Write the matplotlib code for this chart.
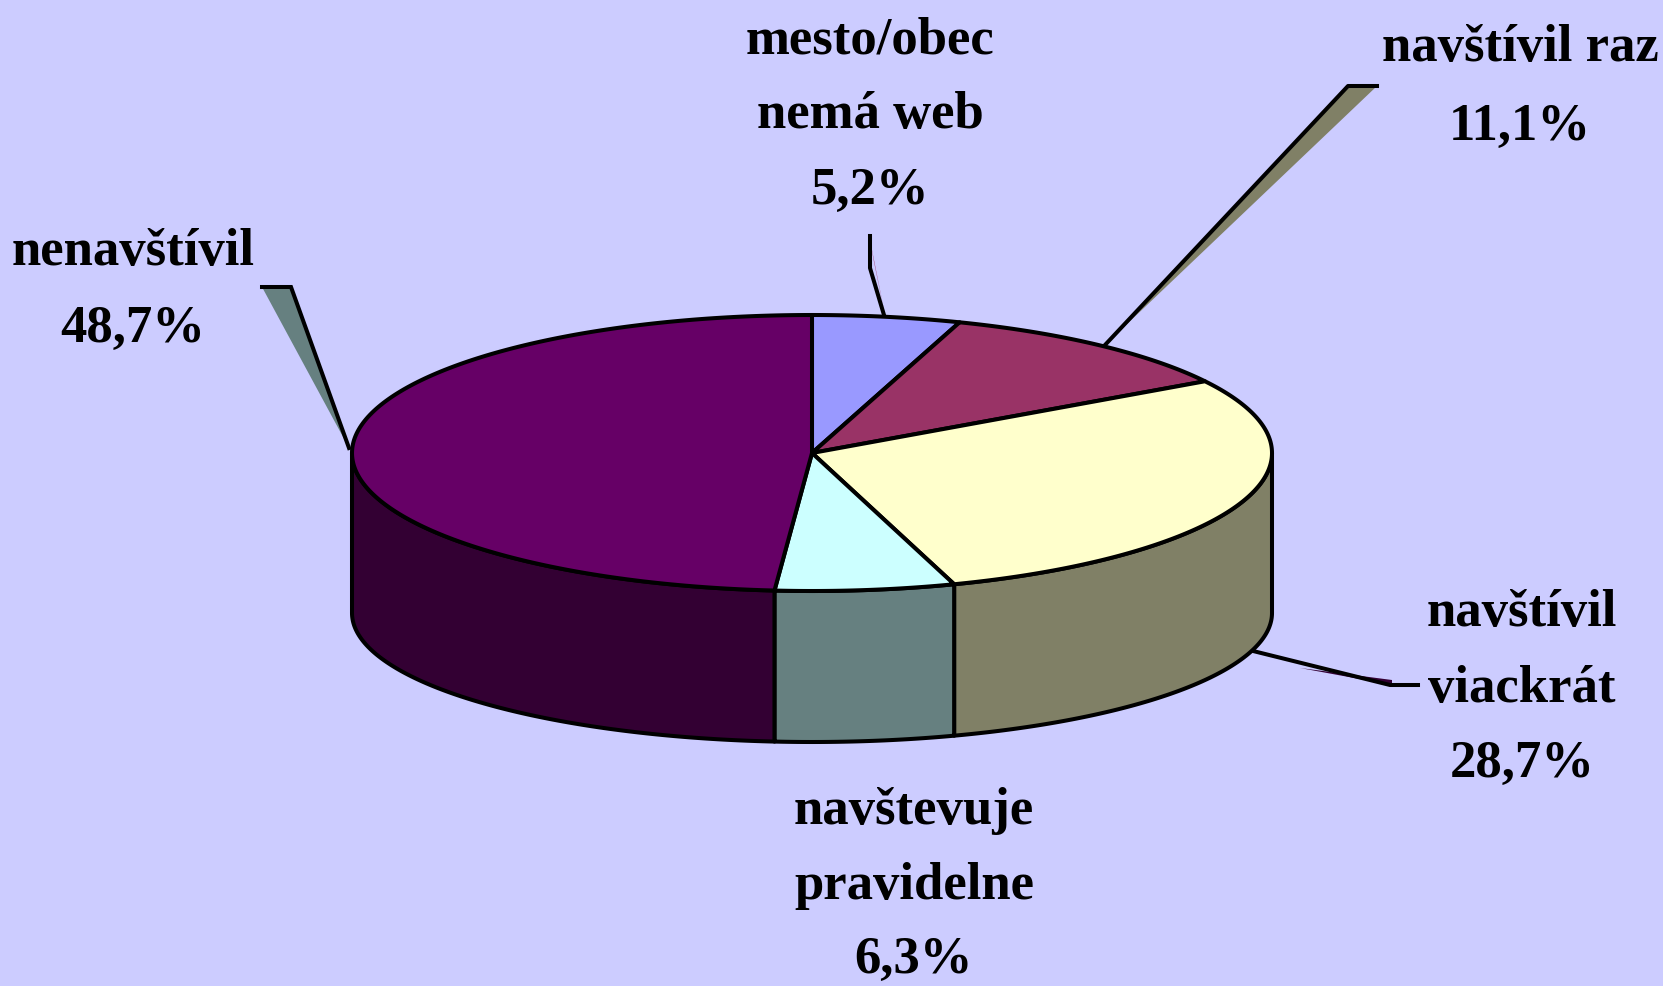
import numpy as np
import matplotlib
matplotlib.use("Agg")
import matplotlib.pyplot as plt
from matplotlib.patches import Polygon

# ---- data ----
categories = ["mesto/obec\nnemá web", "navštívil raz", "navštívil\nviackrát",
              "navštevuje\npravidelne", "nenavštívil"]
values = [5.2, 11.1, 28.7, 6.3, 48.7]
value_labels = ["5,2%", "11,1%", "28,7%", "6,3%", "48,7%"]
top_colors = ["#9999FF", "#993366", "#FFFFCC", "#CCFFFF", "#660066"]
side_colors = ["#4D4D80", "#4D1A33", "#808066", "#668080", "#330033"]

BG = "#CCCCFF"
W, H = 1663, 986
fig = plt.figure(figsize=(W / 100, H / 100), dpi=100, facecolor=BG)
ax = fig.add_axes([0, 0, 1, 1])
ax.set_xlim(0, W)
ax.set_ylim(H, 0)
ax.axis("off")
ax.set_facecolor(BG)

cx, rx = 812, 460
cy_t, ry_t = 453, 138
cy_b, ry_b = 613, 129
LW = 2.9


def top_pt(th):
    r = np.radians(th)
    return cx + rx * np.sin(r), cy_t - ry_t * np.cos(r)


def bot_pt(th):
    r = np.radians(th)
    return cx + rx * np.sin(r), cy_b - ry_b * np.cos(r)


total = sum(values)
bounds = np.concatenate([[0], np.cumsum(values) / total * 360])

# side faces (front half only)
for i in range(len(values)):
    a, b = max(bounds[i], 90), min(bounds[i + 1], 270)
    if b <= a:
        continue
    th = np.linspace(a, b, 120)
    xt, yt = top_pt(th)
    xb, yb = bot_pt(th[::-1])
    pts = np.column_stack([np.concatenate([xt, xb]), np.concatenate([yt, yb])])
    ax.add_patch(Polygon(pts, closed=True, facecolor=side_colors[i],
                         edgecolor="black", lw=LW, joinstyle="round", zorder=2))

# top faces
for i in range(len(values)):
    th = np.linspace(bounds[i], bounds[i + 1], 200)
    xt, yt = top_pt(th)
    pts = np.column_stack([np.concatenate([[cx], xt]), np.concatenate([[cy_t], yt])])
    ax.add_patch(Polygon(pts, closed=True, facecolor=top_colors[i],
                         edgecolor="black", lw=LW, joinstyle="round", zorder=3))

# leader lines (wedge-shaped, as drawn in the original)
# nenavštívil
ax.add_patch(Polygon([(262, 287), (291, 287), (349, 448)], closed=True,
                     facecolor="#668080", edgecolor="none", zorder=1))
ax.plot([262, 291, 349], [287, 287, 448], color="black", lw=LW, zorder=1.5,
        solid_joinstyle="miter")
# navštívil raz
ax.add_patch(Polygon([(1348, 86), (1377, 86), (1105, 345)], closed=True,
                     facecolor="#808066", edgecolor="none", zorder=1))
ax.plot([1105, 1348, 1377], [345, 86, 86], color="black", lw=LW, zorder=1.5)
# mesto/obec
ax.add_patch(Polygon([(870, 240), (885, 315), (874, 262)], closed=True,
                     facecolor="#993366", edgecolor="none", zorder=1))
ax.plot([870, 870, 884], [236, 268, 315], color="black", lw=LW, zorder=1.5)
# navštívil viackrát
ax.add_patch(Polygon([(1300, 668), (1392, 685), (1392, 680)], closed=True,
                     facecolor="#330033", edgecolor="none", zorder=1))
ax.plot([1245, 1390, 1418], [649, 685, 685], color="black", lw=LW, zorder=1.5)

# labels
label_pos = [(870, [40, 115, 191]),
             (1520, [48, 127]),
             (1522, [613, 689, 764]),
             (914, [811, 886, 960]),
             (133, [252, 329])]
font = dict(family="Liberation Serif", weight="bold", size=38, color="black")
for i, (x, ys) in enumerate(label_pos):
    lines = categories[i].split("\n") + [value_labels[i]]
    for line, y in zip(lines, ys):
        ax.text(x, y, line, ha="center", va="center", zorder=5, **font)

fig.savefig("out.png", dpi=100, facecolor=BG)
